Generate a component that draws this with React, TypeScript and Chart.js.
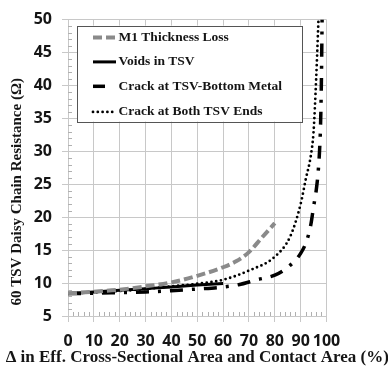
import React, { useEffect, useRef } from "react";
import { Chart, registerables } from "chart.js";

Chart.register(...registerables);

// ---- data ----
const seriesNames = [
  "M1 Thickness Loss",
  "Voids in TSV",
  "Crack at TSV-Bottom Metal",
  "Crack at Both TSV Ends",
];
const m1X = [0, 10, 20, 30, 40, 50, 60, 65, 70, 75, 80];
const m1Y = [8.4, 8.7, 9.0, 9.5, 10.1, 11.1, 12.4, 13.3, 14.7, 16.9, 19.1];
const voidsX = [0, 10, 20, 30, 40, 50, 60];
const voidsY = [8.4, 8.65, 8.9, 9.15, 9.4, 9.7, 9.95];
const bottomX = [0, 10, 20, 30, 40, 50, 60, 66, 73, 80, 85, 90, 92.4, 94, 95, 96, 96.8, 97.3, 97.7, 98, 98.3];
const bottomY = [8.4, 8.45, 8.55, 8.65, 8.85, 9.1, 9.4, 9.75, 10.5, 11.2, 12.4, 14.5, 16.5, 19, 21.6, 24, 27, 30, 34, 40, 50];
const bothX = [0, 10, 20, 30, 40, 50, 60, 70, 80, 86, 90, 92, 94, 95, 96, 96.9];
const bothY = [8.4, 8.6, 8.8, 9.1, 9.5, 9.9, 10.5, 11.9, 14.0, 17.1, 22, 25.8, 29.5, 33, 41, 50];

const xMin = 0;
const xMax = 100;
const xStep = 10;
const xMinorStep = 2;
const yMin = 5;
const yMax = 50;
const yStep = 5;
const yMinorStep = 1;

const xTitle = "Δ in Eff. Cross-Sectional Area and Contact Area (%)";
const yTitle = "60 TSV Daisy Chain Resistance (Ω)";

const pts = (xs: number[], ys: number[]) => xs.map((x, i) => ({ x, y: ys[i] }));

const GRID = "#c8c8c8";
const TEXT = "#151515";
const TICK_FONT = { family: "'Open Sans', sans-serif", size: 16, weight: "bold" as const };
const SERIF = "'Liberation Serif', 'Times New Roman', serif";

const minorTicksPlugin = {
  id: "minorTicks",
  beforeDatasetsDraw(chart: any) {
    const { ctx, chartArea: ca, scales } = chart;
    const xs = scales.x;
    const ys = scales.y;
    ctx.save();
    ctx.strokeStyle = "#b0b0b0";
    ctx.lineWidth = 1;
    ctx.beginPath();
    for (let v = yMin; v <= yMax + 1e-9; v += yMinorStep) {
      if (Math.abs(v / yStep - Math.round(v / yStep)) < 1e-9) continue;
      const py = Math.round(ys.getPixelForValue(v)) + 0.5;
      ctx.moveTo(ca.left, py);
      ctx.lineTo(ca.left + 4, py);
    }
    for (let v = xMin; v <= xMax + 1e-9; v += xMinorStep) {
      if (Math.abs(v / xStep - Math.round(v / xStep)) < 1e-9) continue;
      const px = Math.round(xs.getPixelForValue(v)) + 0.5;
      ctx.moveTo(px, ca.bottom);
      ctx.lineTo(px, ca.bottom - 4);
    }
    ctx.stroke();
    ctx.restore();
  },
};

const boxLegendPlugin = {
  id: "boxLegend",
  afterDatasetsDraw(chart: any) {
    const { ctx, chartArea: ca } = chart;
    const bx = ca.left + 9;
    const by = ca.top + 6;
    const bw = 225;
    const bh = 96;
    ctx.save();
    ctx.fillStyle = "#ffffff";
    ctx.fillRect(bx, by, bw, bh);
    ctx.strokeStyle = "#555555";
    ctx.lineWidth = 1;
    ctx.strokeRect(Math.round(bx) + 0.5, Math.round(by) + 0.5, bw, bh);
    const rowY = [12, 36.3, 60.7, 86.3];
    chart.data.datasets.forEach((ds: any, i: number) => {
      const y = by + rowY[i];
      const x0 = bx + 16;
      const len = i === 2 ? 12 : 23;
      ctx.save();
      ctx.strokeStyle = ds.borderColor;
      ctx.lineWidth = ds.borderWidth;
      ctx.setLineDash(i === 2 ? [] : ds.borderDash || []);
      ctx.lineCap = ds.borderCapStyle || "butt";
      ctx.beginPath();
      ctx.moveTo(x0, y);
      ctx.lineTo(x0 + len, y);
      ctx.stroke();
      ctx.restore();
      ctx.fillStyle = TEXT;
      ctx.font = `bold 13.5px ${SERIF}`;
      ctx.textBaseline = "middle";
      ctx.textAlign = "left";
      ctx.fillText(ds.label, bx + 41.5, y);
    });
    ctx.restore();
  },
  afterDraw(chart: any) {
    const { ctx, chartArea: ca } = chart;
    ctx.save();
    ctx.fillStyle = TEXT;
    ctx.textAlign = "center";
    ctx.textBaseline = "middle";
    // y-axis title
    ctx.save();
    ctx.translate(17, (ca.top + ca.bottom) / 2 + 24);
    ctx.rotate(-Math.PI / 2);
    ctx.font = `bold 15px ${SERIF}`;
    ctx.fillText(yTitle, 0, 0);
    ctx.restore();
    // x-axis title
    ctx.font = `bold 17px ${SERIF}`;
    ctx.fillText(xTitle, (ca.left + ca.right) / 2, chart.height - 14.5);
    ctx.restore();
  },
};

export default function App() {
  const ref = useRef<HTMLCanvasElement | null>(null);

  useEffect(() => {
    if (!ref.current) return;
    const chart = new Chart(ref.current, {
      type: "line",
      data: {
        datasets: [
          {
            label: seriesNames[0],
            data: pts(m1X, m1Y),
            borderColor: "#8a8a8a",
            borderWidth: 4,
            borderDash: [9, 4],
            pointRadius: 0,
            cubicInterpolationMode: "monotone",
          },
          {
            label: seriesNames[1],
            data: pts(voidsX, voidsY),
            borderColor: "#000000",
            borderWidth: 3,
            pointRadius: 0,
            cubicInterpolationMode: "monotone",
          },
          {
            label: seriesNames[2],
            data: pts(bottomX, bottomY),
            borderColor: "#000000",
            borderWidth: 3.5,
            borderDash: [13, 9, 3, 9],
            pointRadius: 0,
            cubicInterpolationMode: "monotone",
          },
          {
            label: seriesNames[3],
            data: pts(bothX, bothY),
            borderColor: "#000000",
            borderWidth: 2.8,
            borderDash: [0, 4.8],
            borderCapStyle: "round",
            pointRadius: 0,
            cubicInterpolationMode: "monotone",
          },
        ],
      },
      options: {
        animation: false,
        responsive: false,
        devicePixelRatio: 1,
        layout: { padding: { top: 16, right: 61.5, left: 0, bottom: 0 } },
        plugins: {
          legend: { display: false },
          tooltip: { enabled: false },
        },
        scales: {
          x: {
            type: "linear",
            min: xMin,
            max: xMax,
            ticks: {
              stepSize: xStep,
              autoSkip: false,
              maxRotation: 0,
              minRotation: 0,
              padding: 10,
              color: TEXT,
              font: TICK_FONT,
            },
            grid: { color: GRID, tickLength: 6, lineWidth: 1 },
            border: { color: GRID },
            afterFit(scale: any) {
              scale.height = 56;
            },
          },
          y: {
            type: "linear",
            min: yMin,
            max: yMax,
            ticks: {
              stepSize: yStep,
              padding: 10,
              color: TEXT,
              font: TICK_FONT,
            },
            grid: { color: GRID, tickLength: 6, lineWidth: 1 },
            border: { color: GRID },
            afterFit(scale: any) {
              scale.width = 68;
            },
          },
        },
      },
      plugins: [minorTicksPlugin, boxLegendPlugin],
    } as any);
    return () => chart.destroy();
  }, []);

  return (
    <div style={{ position: "fixed", left: 0, top: 0, width: 388, height: 372, background: "#fff" }}>
      <canvas ref={ref} width={388} height={372} style={{ display: "block" }} />
    </div>
  );
}
